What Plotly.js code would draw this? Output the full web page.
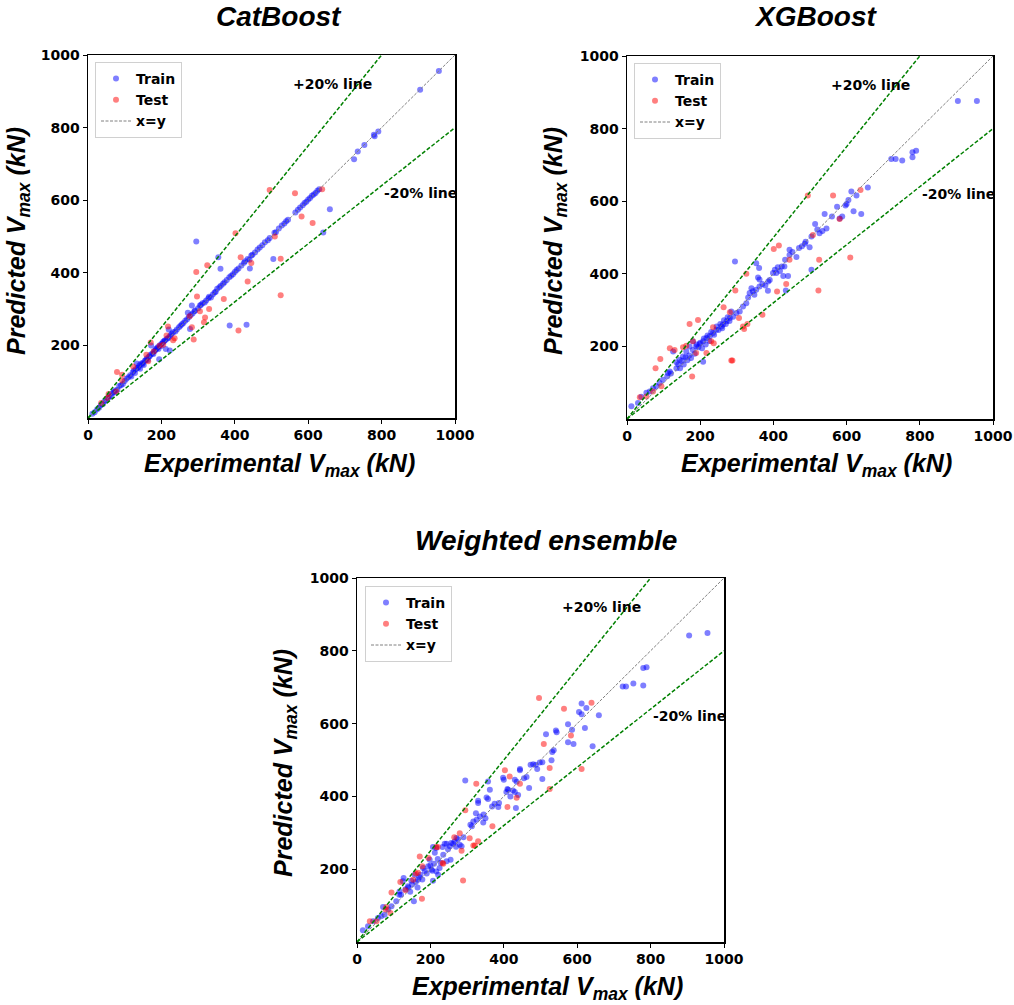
<!DOCTYPE html>
<html>
<head>
<meta charset="utf-8">
<script src="https://cdn.plot.ly/plotly-3.0.1.min.js"></script>
<style>html,body{margin:0;padding:0;background:#fff;}#chart{width:1014px;height:1005px;}</style>
</head>
<body>
<div id="chart"></div>
<script>
// ---------- DATA ----------
const panelTitles = ["CatBoost", "XGBoost", "Weighted ensemble"];
const xTickVals = [0, 200, 400, 600, 800, 1000];
const yTickVals = [200, 400, 600, 800, 1000];
const identityX = [0, 1000];
const identityY = [0, 1000];
const upperX = [0, 800];
const upperY = [0, 1000];
const lowerX = [0, 1000];
const lowerY = [0, 800];

const catTrain = [
  [12,12],[18,16],[25,24],[30,28],[35,36],[40,38],[45,46],[50,48],[55,56],[58,60],[62,60],[66,68],[70,72],[72,70],[75,76],[80,78],[85,88],[90,90],[95,94],[100,102],
  [105,108],[110,112],[115,118],[118,114],[122,126],[125,130],[128,124],[130,134],[133,150],[135,138],[138,140],[140,145],[142,136],[145,150],[148,148],[150,152],[152,146],[155,158],[158,160],[160,164],[163,160],[165,168],[168,170],[170,174],[172,200],[175,178],[178,176],[180,184],[183,186],[185,190],[188,192],[190,195],[192,190],[194,162],[195,200],[198,198],[200,204],[203,206],[205,210],[208,212],[210,214],[212,190],[215,218],[218,220],[220,244],[222,224],[223,186],[225,228],[228,232],
  [232,236],[238,238],[242,244],[248,250],[252,254],[256,258],[260,262],[265,268],[270,272],[272,290],[275,278],[278,245],[280,284],[283,310],[285,288],[290,294],[292,296],[295,486],[300,302],[305,310],[308,312],[312,316],[318,318],[322,324],[328,330],[330,334],[335,332],[340,340],[345,346],[348,348],[352,356],[355,443],[358,360],[361,411],[362,364],[368,370],[372,374],[378,380],[385,388],[386,255],[390,392],[395,396],[400,402],[405,408],[410,412],
  [418,420],[425,428],[428,432],[432,257],[435,438],[440,436],[441,412],[445,448],[448,450],[455,456],[462,464],[468,470],[475,476],[482,484],[490,490],[495,496],[505,438],[508,510],[512,512],[520,522],[528,530],[535,536],[540,542],[545,546],[565,566],[572,574],[578,580],[585,586],[590,592],[595,596],[600,602],[605,606],[610,612],[615,616],[620,620],[625,626],[630,630],[641,511],[659,575],
  [725,713],[735,734],[753,752],[779,780],[781,776],[791,789],[905,904],[956,956]
];
const catTest = [
  [495,628],[638,630],[564,619],[582,555],[612,537],[509,500],[525,439],[525,338],[402,509],[416,443],[445,427],[435,376],[370,328],[410,241],[325,421],[295,402],[297,335],[330,300],[305,294],[319,277],[316,264],[283,250],[288,216],[277,280],[218,252],[236,220],[232,214],[214,227],[205,202],[195,199],[179,183],[171,208],[159,174],[164,156],[79,127],[93,119],[93,103],[56,66],[77,73],[36,41],[53,55],[123,142]
];

const xgbTrain = [
  [904,876],[956,876],[790,739],[780,735],[780,721],[722,716],[734,716],[752,712],[658,638],[613,627],[627,616],[605,603],[597,588],[574,585],[619,572],[640,565],[588,558],[581,552],[540,565],[514,537],[545,525],[534,518],[526,512],[504,503],[488,488],[486,483],[499,473],[504,411],[470,471],[444,466],[463,446],[444,452],[432,439],[423,420],[430,420],[440,394],[427,394],[434,354],[385,353],[404,411],[408,402],[399,402],[390,383],[386,379],[362,365],[353,356],[344,352],[335,347],[331,335],[353,429],[361,416],[358,390],[362,384],[295,434],[326,319],[317,310],[308,296],[299,292],[281,278],[272,269],[262,260],[258,255],[244,246],[235,237],[226,228],[217,223],[208,214],[199,207],[189,200],[208,158],[180,214],[171,200],[162,186],[126,186],[153,172],[144,163],[135,156],[112,127],[117,131],[98,108],[89,99],[80,90],[71,85],[62,76],[53,72],[30,44],[12,35],[39,61],
  [110,118],[120,125],[135,140],[140,150],[145,140],[150,160],[155,150],[160,170],[165,162],[170,175],[175,168],[180,190],[185,180],[190,205],[195,198],[200,210],[205,195],[210,222],[215,205],[220,230],[225,215],[230,240],[238,232],[245,255],[250,245],[255,262],[260,250],[265,272],[270,262],[275,280],[280,270],[285,296],[290,282],[340,360],[348,342],[370,372],[378,368],[412,418],[418,408],[452,460],[478,476],[520,522],[560,558],[600,592]
];
const xgbTest = [
  [494,616],[563,616],[638,631],[581,551],[508,507],[525,439],[610,445],[523,354],[415,478],[401,468],[444,439],[435,372],[410,351],[370,287],[326,400],[296,354],[329,262],[317,255],[320,248],[306,278],[264,308],[281,294],[285,161],[288,161],[235,253],[230,214],[237,209],[217,182],[194,273],[171,262],[180,214],[153,198],[162,202],[189,182],[178,117],[117,195],[91,165],[78,140],[94,90],[71,76],[53,62],[35,60],[130,190]
];

const ensTrain = [
  [905,842],[955,849],[789,755],[780,753],[724,702],[733,702],[753,710],[780,705],[659,623],[612,655],[625,643],[605,632],[612,626],[575,598],[586,583],[621,588],[642,538],[575,549],[590,544],[515,571],[542,581],[544,576],[536,527],[532,522],[530,499],[505,494],[498,493],[487,487],[491,475],[473,487],[505,448],[469,423],[444,475],[444,472],[462,453],[430,446],[435,440],[398,451],[400,446],[407,412],[412,418],[425,416],[430,412],[439,404],[433,368],[387,382],[385,371],[362,418],[357,393],[353,397],[357,441],[330,388],[330,382],[324,354],[335,345],[344,328],[317,331],[326,336],[295,444],[309,322],[313,318],[271,286],[266,276],[280,267],[285,263],[257,272],[253,263],[244,270],[239,270],[233,261],[255,226],[244,222],[216,258],[207,261],[212,245],[198,226],[194,208],[203,199],[225,203],[216,194],[221,185],[180,203],[173,185],[166,171],[207,168],[157,185],[148,168],[139,153],[127,176],[125,167],[155,112],[116,139],[115,130],[107,112],[94,98],[85,89],[75,75],[71,96],[66,71],[57,66],[44,57],[30,43],[16,32],
  [120,130],[132,145],[140,150],[145,138],[150,158],[160,165],[165,150],[170,178],[178,172],[185,195],[190,188],[200,210],[205,196],[210,215],[220,228],[228,218],[235,240],[248,255],[262,270],[270,262],[275,282],[290,288],[345,350],[350,340],[368,372],[375,380],[410,420],[418,400],[455,450],[480,488]
];
const ensTest = [
  [496,670],[564,641],[639,657],[583,567],[509,544],[525,478],[612,475],[525,420],[403,472],[416,455],[444,435],[435,396],[410,371],[369,318],[325,435],[295,362],[330,277],[317,265],[321,265],[307,285],[280,299],[265,288],[285,251],[289,169],[220,261],[233,217],[235,215],[216,261],[195,231],[171,235],[178,208],[160,188],[166,190],[153,171],[177,119],[118,165],[94,136],[78,89],[91,80],[53,57],[35,57],[132,142],[80,96]
];

const panelData = [
  {train: catTrain, test: catTest},
  {train: xgbTrain, test: xgbTest},
  {train: ensTrain, test: ensTest}
];

// ---------- STYLE / LAYOUT ----------
const W = 1014, H = 1005;
const px = v => v / W;
const py = v => 1 - v / H;

const panels = [
  {ax: '', xd: [88, 455], yd: [55, 418], legend: 'legend', lg: [95, 62],
   title: [279, 17], ytitle: [18, 241], xtitle: [279, 465]},
  {ax: '2', xd: [627, 993], yd: [56, 419], legend: 'legend2', lg: [634, 63],
   title: [815, 17], ytitle: [555, 241], xtitle: [816, 465]},
  {ax: '3', xd: [357, 724], yd: [578, 942], legend: 'legend3', lg: [365, 586],
   title: [546, 540], ytitle: [285, 763], xtitle: [547, 988]}
];

const traces = [];
const annotations = [];
const layout = {
  width: W, height: H,
  margin: {l: 0, r: 0, t: 0, b: 0},
  paper_bgcolor: 'white', plot_bgcolor: 'white',
  showlegend: true,
  font: {family: 'DejaVu Sans', color: 'black'}
};

const tickFont = {family: 'DejaVu Sans', size: 14, color: 'black', weight: 'bold'};
const titleFont = {family: 'Liberation Sans', size: 28, color: 'black', weight: 'bold', style: 'italic'};
const axTitleFont = {family: 'Liberation Sans', size: 25, color: 'black', weight: 'bold', style: 'italic'};
const labelFont = {family: 'DejaVu Sans', size: 14, color: 'black', weight: 'bold'};

panels.forEach((p, i) => {
  const xa = 'x' + p.ax, ya = 'y' + p.ax;
  const d = panelData[i];
  traces.push({
    type: 'scatter', mode: 'markers', name: 'Train', xaxis: xa, yaxis: ya, legend: p.legend,
    x: d.train.map(q => q[0]), y: d.train.map(q => q[1]),
    marker: {color: 'rgba(0,0,255,0.5)', size: 6}
  });
  traces.push({
    type: 'scatter', mode: 'markers', name: 'Test', xaxis: xa, yaxis: ya, legend: p.legend,
    x: d.test.map(q => q[0]), y: d.test.map(q => q[1]),
    marker: {color: 'rgba(255,0,0,0.5)', size: 6}
  });
  traces.push({
    type: 'scatter', mode: 'lines', name: 'x=y', xaxis: xa, yaxis: ya, legend: p.legend,
    x: identityX, y: identityY,
    line: {color: 'gray', width: 1, dash: '3px,1.5px'}
  });
  traces.push({
    type: 'scatter', mode: 'lines', name: '+20%', xaxis: xa, yaxis: ya, showlegend: false,
    x: upperX, y: upperY, line: {color: 'green', width: 1.5, dash: '4px,2px'}
  });
  traces.push({
    type: 'scatter', mode: 'lines', name: '-20%', xaxis: xa, yaxis: ya, showlegend: false,
    x: lowerX, y: lowerY, line: {color: 'green', width: 1.5, dash: '4px,2px'}
  });

  const axBase = {
    range: [0, 1000], showgrid: false, zeroline: false, showline: true, mirror: true,
    linecolor: 'black', linewidth: 1.5, ticks: 'outside', ticklen: 4, tickwidth: 1,
    tickcolor: 'black', tickfont: tickFont, fixedrange: true
  };
  layout['xaxis' + p.ax] = Object.assign({}, axBase, {
    domain: [px(p.xd[0]), px(p.xd[1])], anchor: ya, tickvals: xTickVals, ticktext: xTickVals.map(String)
  });
  layout['yaxis' + p.ax] = Object.assign({}, axBase, {
    domain: [py(p.yd[1]), py(p.yd[0])], anchor: xa, tickvals: yTickVals, ticktext: yTickVals.map(String)
  });
  layout[p.legend] = {
    x: px(p.lg[0]), y: py(p.lg[1]), xanchor: 'left', yanchor: 'top',
    xref: 'paper', yref: 'paper',
    bgcolor: 'white', bordercolor: '#d0d0d0', borderwidth: 1,
    font: labelFont, itemwidth: 30
  };

  annotations.push({xref: 'paper', yref: 'paper', x: px(p.title[0]), y: py(p.title[1]),
    xanchor: 'center', yanchor: 'middle', showarrow: false, text: panelTitles[i], font: titleFont});
  annotations.push({xref: 'paper', yref: 'paper', x: px(p.ytitle[0]), y: py(p.ytitle[1]),
    xanchor: 'center', yanchor: 'middle', showarrow: false, textangle: -90,
    text: 'Predicted V<sub>max</sub> (kN)', font: axTitleFont});
  annotations.push({xref: 'paper', yref: 'paper', x: px(p.xtitle[0]), y: py(p.xtitle[1]),
    xanchor: 'center', yanchor: 'middle', showarrow: false,
    text: 'Experimental V<sub>max</sub> (kN)', font: axTitleFont});
  annotations.push({xref: xa, yref: ya, x: 553, y: 921, xanchor: 'left', yanchor: 'middle',
    showarrow: false, text: '+20% line', font: labelFont});
  annotations.push({xref: xa, yref: ya, x: 800, y: 621, xanchor: 'left', yanchor: 'middle',
    showarrow: false, text: '-20% line', font: labelFont});
});

layout.annotations = annotations;
Plotly.newPlot('chart', traces, layout, {displayModeBar: false, staticPlot: true});
</script>
</body>
</html>
